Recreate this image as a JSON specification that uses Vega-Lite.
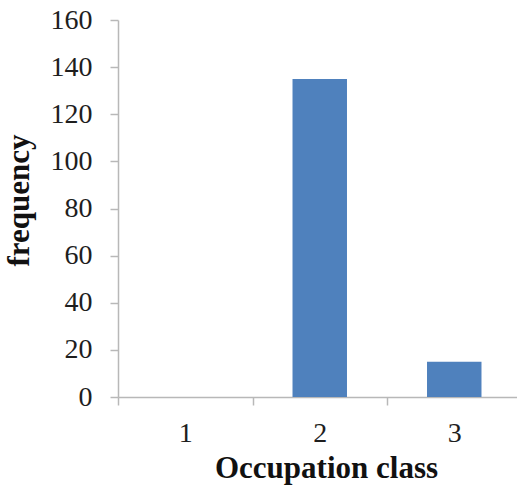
{
  "$schema": "https://vega.github.io/schema/vega-lite/v6.json",
  "width": 399,
  "height": 377,
  "autosize": "none",
  "padding": {"left": 118, "top": 20, "right": 0, "bottom": 89},
  "background": "white",
  "config": {
    "view": {"stroke": null},
    "font": "Liberation Serif",
    "axis": {
      "domainColor": "#b8b8b8",
      "tickColor": "#b8b8b8",
      "domainWidth": 1.5,
      "tickWidth": 1.5,
      "tickSize": 8,
      "grid": false,
      "labelFont": "Liberation Serif",
      "labelFontSize": 28,
      "labelColor": "#1e1e1e",
      "titleFont": "Liberation Serif",
      "titleFontSize": 31,
      "titleFontWeight": "bold",
      "titleColor": "#111111"
    }
  },
  "data": {
    "values": [
      {"occupation_class": "1", "frequency": 0},
      {"occupation_class": "2", "frequency": 135},
      {"occupation_class": "3", "frequency": 15}
    ]
  },
  "mark": {"type": "bar", "color": "#4f81bd", "width": {"band": 0.405}},
  "encoding": {
    "x": {
      "field": "occupation_class",
      "type": "nominal",
      "title": "Occupation class",
      "scale": {"paddingInner": 0, "paddingOuter": 0, "range": [0, 403.5]},
      "axis": {
        "labelAngle": 0,
        "tickBand": "extent",
        "labelBaseline": "alphabetic",
        "labelPadding": 36,
        "titleBaseline": "alphabetic",
        "titleAlign": "center",
        "titleX": 208,
        "titleY": 80
      }
    },
    "y": {
      "field": "frequency",
      "type": "quantitative",
      "title": "frequency",
      "scale": {"domain": [0, 160], "nice": false},
      "axis": {
        "values": [0, 20, 40, 60, 80, 100, 120, 140, 160],
        "labelPadding": 18,
        "titleBaseline": "alphabetic",
        "titleAlign": "center",
        "titleX": -90,
        "titleY": 180
      }
    }
  }
}
